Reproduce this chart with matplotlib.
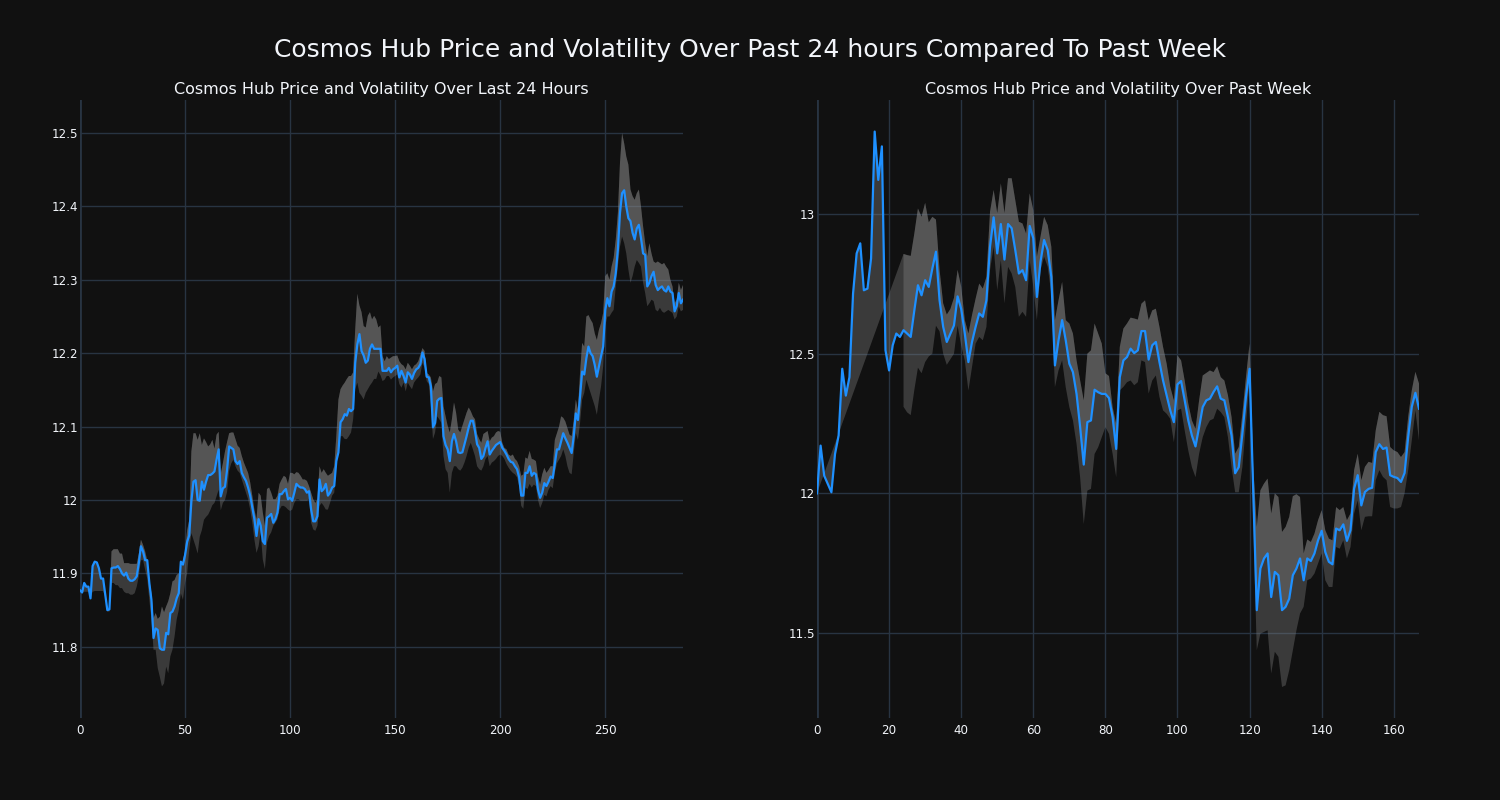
import numpy as np
import matplotlib
matplotlib.use("Agg")
import matplotlib.pyplot as plt
from matplotlib.ticker import FuncFormatter, MultipleLocator

nan = np.nan

# ---------------- Past 24 hours (5-minute samples) ----------------
price_24h = [
    11.877, 11.874, 11.887, 11.882, 11.882, 11.866, 11.910, 11.916, 11.915, 11.907,
    11.893, 11.893, 11.871, 11.850, 11.851, 11.907, 11.908, 11.908, 11.910, 11.906,
    11.900, 11.897, 11.901, 11.893, 11.890, 11.890, 11.892, 11.896, 11.914, 11.937,
    11.930, 11.918, 11.918, 11.887, 11.864, 11.812, 11.825, 11.823, 11.798, 11.796,
    11.796, 11.819, 11.817, 11.846, 11.848, 11.855, 11.866, 11.873, 11.916, 11.912,
    11.925, 11.943, 11.952, 11.998, 12.025, 12.027, 12.000, 11.999, 12.025, 12.014,
    12.025, 12.034, 12.034, 12.036, 12.039, 12.055, 12.069, 12.005, 12.016, 12.018,
    12.041, 12.073, 12.071, 12.069, 12.053, 12.049, 12.053, 12.037, 12.031, 12.026,
    12.017, 12.006, 11.990, 11.974, 11.951, 11.974, 11.965, 11.944, 11.940, 11.976,
    11.978, 11.981, 11.969, 11.974, 11.983, 12.008, 12.008, 12.012, 12.015, 12.001,
    12.003, 11.999, 12.010, 12.022, 12.019, 12.017, 12.017, 12.015, 12.010, 12.012,
    11.987, 11.971, 11.971, 11.978, 12.028, 12.012, 12.015, 12.022, 12.006, 12.010,
    12.017, 12.019, 12.053, 12.065, 12.106, 12.110, 12.117, 12.115, 12.124, 12.121,
    12.124, 12.187, 12.212, 12.226, 12.203, 12.197, 12.187, 12.190, 12.206, 12.212,
    12.206, 12.206, 12.206, 12.206, 12.176, 12.176, 12.176, 12.180, 12.174, 12.178,
    12.180, 12.183, 12.167, 12.176, 12.169, 12.160, 12.174, 12.171, 12.165, 12.173,
    12.178, 12.180, 12.185, 12.201, 12.192, 12.168, 12.167, 12.155, 12.099, 12.105,
    12.135, 12.138, 12.139, 12.087, 12.075, 12.069, 12.053, 12.080, 12.090, 12.080,
    12.065, 12.064, 12.065, 12.076, 12.087, 12.099, 12.108, 12.108, 12.094, 12.076,
    12.071, 12.056, 12.060, 12.071, 12.080, 12.062, 12.067, 12.071, 12.075, 12.077,
    12.079, 12.071, 12.067, 12.062, 12.056, 12.052, 12.051, 12.046, 12.042, 12.031,
    12.006, 12.006, 12.037, 12.037, 12.046, 12.033, 12.037, 12.035, 12.014, 12.003,
    12.010, 12.023, 12.019, 12.025, 12.032, 12.030, 12.050, 12.069, 12.069, 12.080,
    12.091, 12.084, 12.078, 12.071, 12.064, 12.087, 12.118, 12.109, 12.141, 12.175,
    12.171, 12.193, 12.209, 12.200, 12.196, 12.184, 12.168, 12.182, 12.196, 12.209,
    12.259, 12.275, 12.264, 12.284, 12.291, 12.309, 12.341, 12.391, 12.418, 12.422,
    12.400, 12.384, 12.380, 12.364, 12.355, 12.370, 12.375, 12.357, 12.336, 12.334,
    12.291, 12.296, 12.305, 12.311, 12.293, 12.286, 12.289, 12.291, 12.286, 12.284,
    12.291, 12.284, 12.282, 12.257, 12.264, 12.282, 12.268, 12.273,
]

upper_24h = [
    11.877, 11.874, 11.887, 11.882, 11.882, 11.866, 11.910, 11.916, 11.915, 11.907,
    11.893, 11.893, 11.871, 11.850, 11.851,
    11.930, 11.933, 11.933, 11.933, 11.927,
    11.927, 11.914, 11.914, 11.914, 11.913, 11.913, 11.913, 11.913, 11.927, 11.946,
    11.939, 11.930, 11.918, 11.891, 11.873, 11.839, 11.846, 11.838, 11.841, 11.855,
    11.847, 11.855, 11.862, 11.873, 11.889, 11.891, 11.898, 11.900, 11.905, 11.918,
    11.930, 11.959, 11.973, 12.066, 12.091, 12.091, 12.082, 12.091, 12.075, 12.084,
    12.079, 12.073, 12.076, 12.082, 12.070, 12.089, 12.093, 12.036, 12.050, 12.066,
    12.079, 12.091, 12.092, 12.092, 12.083, 12.074, 12.071, 12.060, 12.051, 12.044,
    12.037, 12.024, 12.006, 11.987, 11.974, 12.010, 12.006, 11.983, 11.965, 12.015,
    12.017, 12.010, 12.001, 12.001, 12.006, 12.022, 12.028, 12.033, 12.031, 12.022,
    12.037, 12.037, 12.035, 12.038, 12.037, 12.033, 12.028, 12.028, 12.026, 12.019,
    12.010, 12.001, 11.996, 12.001, 12.046, 12.037, 12.042, 12.037, 12.033, 12.035,
    12.037, 12.046, 12.087, 12.137, 12.151, 12.156, 12.160, 12.165, 12.169, 12.169,
    12.174, 12.233, 12.281, 12.265, 12.256, 12.237, 12.235, 12.251, 12.256, 12.246,
    12.251, 12.246, 12.235, 12.238, 12.196, 12.189, 12.196, 12.192, 12.194, 12.196,
    12.196, 12.197, 12.189, 12.185, 12.183, 12.178, 12.187, 12.183, 12.178, 12.183,
    12.185, 12.189, 12.198, 12.207, 12.203, 12.173, 12.171, 12.167, 12.148, 12.158,
    12.160, 12.169, 12.167, 12.128, 12.114, 12.101, 12.092, 12.110, 12.133, 12.119,
    12.096, 12.092, 12.101, 12.110, 12.119, 12.126, 12.121, 12.114, 12.110, 12.090,
    12.083, 12.078, 12.090, 12.092, 12.094, 12.080, 12.085, 12.087, 12.092, 12.094,
    12.093, 12.078, 12.071, 12.069, 12.062, 12.060, 12.062, 12.056, 12.053, 12.046,
    12.033, 12.035, 12.058, 12.056, 12.067, 12.056, 12.055, 12.053, 12.032, 12.021,
    12.035, 12.044, 12.037, 12.041, 12.046, 12.046, 12.082, 12.091, 12.100, 12.114,
    12.112, 12.107, 12.098, 12.089, 12.087, 12.109, 12.137, 12.123, 12.173, 12.214,
    12.209, 12.250, 12.252, 12.246, 12.241, 12.227, 12.218, 12.232, 12.241, 12.255,
    12.305, 12.309, 12.300, 12.318, 12.330, 12.355, 12.391, 12.459, 12.500, 12.486,
    12.468, 12.457, 12.423, 12.414, 12.409, 12.418, 12.423, 12.400, 12.373, 12.350,
    12.332, 12.350, 12.336, 12.325, 12.323, 12.325, 12.323, 12.321, 12.323, 12.318,
    12.314, 12.300, 12.291, 12.268, 12.273, 12.296, 12.286, 12.293,
]

lower_24h = [
    11.875, 11.874, 11.875, 11.875, 11.875, 11.866, 11.875, 11.876, 11.876, 11.876,
    11.876, 11.876, 11.868, 11.848, 11.848,
    11.887, 11.887, 11.884, 11.884, 11.880,
    11.880, 11.875, 11.873, 11.873, 11.871, 11.871, 11.873, 11.882, 11.896, 11.918,
    11.918, 11.905, 11.893, 11.864, 11.837, 11.796, 11.796, 11.771, 11.759, 11.746,
    11.750, 11.773, 11.764, 11.787, 11.796, 11.814, 11.837, 11.850, 11.873, 11.864,
    11.887, 11.900, 11.932, 11.955, 11.946, 11.937, 11.927, 11.950, 11.959, 11.973,
    11.977, 11.980, 11.986, 11.993, 11.996, 12.005, 12.014, 11.986, 11.996, 12.000,
    12.011, 12.040, 12.050, 12.055, 12.046, 12.040, 12.037, 12.028, 12.019, 12.010,
    12.001, 11.987, 11.969, 11.946, 11.928, 11.937, 11.956, 11.919, 11.906, 11.942,
    11.951, 11.956, 11.965, 11.969, 11.974, 11.987, 11.992, 11.992, 11.990, 11.987,
    11.985, 11.987, 11.996, 12.001, 12.001, 11.999, 11.999, 11.999, 11.999, 12.001,
    11.969, 11.960, 11.958, 11.965, 11.992, 11.996, 11.992, 11.987, 11.987, 11.996,
    12.006, 12.010, 12.046, 12.074, 12.087, 12.087, 12.083, 12.083, 12.087, 12.092,
    12.110, 12.151, 12.160, 12.146, 12.142, 12.137, 12.146, 12.151, 12.156, 12.160,
    12.165, 12.165, 12.175, 12.170, 12.162, 12.164, 12.169, 12.169, 12.164, 12.167,
    12.169, 12.171, 12.158, 12.153, 12.160, 12.148, 12.160, 12.155, 12.151, 12.160,
    12.164, 12.167, 12.171, 12.187, 12.180, 12.162, 12.158, 12.128, 12.083, 12.092,
    12.114, 12.110, 12.105, 12.060, 12.042, 12.037, 12.010, 12.037, 12.046, 12.046,
    12.042, 12.040, 12.044, 12.051, 12.060, 12.071, 12.078, 12.069, 12.060, 12.046,
    12.042, 12.040, 12.046, 12.056, 12.060, 12.046, 12.051, 12.053, 12.056, 12.060,
    12.062, 12.060, 12.056, 12.049, 12.044, 12.040, 12.037, 12.035, 12.031, 12.019,
    11.992, 11.988, 12.017, 12.015, 12.022, 12.017, 12.021, 12.019, 12.000, 11.989,
    11.996, 12.007, 12.005, 12.014, 12.019, 12.016, 12.037, 12.050, 12.055, 12.060,
    12.069, 12.060, 12.046, 12.037, 12.035, 12.064, 12.091, 12.082, 12.105, 12.137,
    12.146, 12.164, 12.155, 12.146, 12.137, 12.128, 12.116, 12.137, 12.155, 12.182,
    12.237, 12.250, 12.250, 12.255, 12.259, 12.291, 12.318, 12.345, 12.359, 12.350,
    12.336, 12.314, 12.296, 12.305, 12.318, 12.327, 12.323, 12.318, 12.296, 12.282,
    12.264, 12.268, 12.273, 12.271, 12.259, 12.257, 12.262, 12.257, 12.255, 12.257,
    12.259, 12.257, 12.255, 12.246, 12.250, 12.264, 12.257, 12.259,
]

# ---------------- Past week (hourly samples) ----------------
price_week = [
    12.000, 12.171, 12.063, 12.033, 12.004, 12.141, 12.207, 12.446, 12.350, 12.416,
    12.715, 12.859, 12.895, 12.727, 12.733, 12.841, 13.295, 13.122, 13.242, 12.512,
    12.440, 12.530, 12.572, 12.560, 12.584, 12.572, 12.560, 12.655, 12.745, 12.709,
    12.763, 12.739, 12.805, 12.865, 12.691, 12.596, 12.542, 12.572, 12.601, 12.705,
    12.660, 12.572, 12.470, 12.542, 12.596, 12.644, 12.632, 12.691, 12.883, 12.988,
    12.859, 12.964, 12.837, 12.964, 12.949, 12.871, 12.787, 12.799, 12.763, 12.957,
    12.913, 12.703, 12.829, 12.907, 12.871, 12.775, 12.458, 12.548, 12.620, 12.548,
    12.464, 12.434, 12.356, 12.237, 12.103, 12.255, 12.261, 12.371, 12.362, 12.356,
    12.356, 12.341, 12.273, 12.159, 12.416, 12.476, 12.488, 12.518, 12.502, 12.512,
    12.581, 12.581, 12.479, 12.530, 12.542, 12.470, 12.404, 12.351, 12.297, 12.255,
    12.390, 12.402, 12.333, 12.261, 12.207, 12.168, 12.237, 12.309, 12.333, 12.339,
    12.363, 12.383, 12.339, 12.333, 12.273, 12.207, 12.072, 12.094, 12.213, 12.345,
    12.446, 12.010, 11.582, 11.731, 11.767, 11.785, 11.629, 11.719, 11.707, 11.582,
    11.594, 11.623, 11.707, 11.731, 11.767, 11.689, 11.767, 11.758, 11.785, 11.832,
    11.866, 11.790, 11.755, 11.746, 11.874, 11.868, 11.889, 11.830, 11.868, 12.017,
    12.065, 11.957, 12.005, 12.016, 12.020, 12.148, 12.176, 12.159, 12.164, 12.065,
    12.059, 12.055, 12.041, 12.073, 12.202, 12.310, 12.360, 12.303,
]

upper_week = [nan] * 24 + [
    12.857, 12.853, 12.850, 12.930, 13.020, 12.990,
    13.040, 12.970, 12.990, 12.980, 12.800, 12.680, 12.640, 12.660, 12.700, 12.800,
    12.740, 12.620, 12.572, 12.638, 12.697, 12.751, 12.733, 12.775, 13.008, 13.086,
    13.003, 13.110, 13.003, 13.128, 13.128, 13.050, 12.972, 12.966, 12.930, 13.074,
    13.014, 12.847, 12.919, 12.990, 12.960, 12.883, 12.620, 12.691, 12.757, 12.620,
    12.608, 12.572, 12.476, 12.404, 12.333, 12.500, 12.512, 12.608, 12.572, 12.536,
    12.430, 12.420, 12.309, 12.249, 12.524, 12.590, 12.608, 12.629, 12.626, 12.622,
    12.679, 12.691, 12.620, 12.655, 12.661, 12.596, 12.524, 12.464, 12.381, 12.333,
    12.494, 12.476, 12.404, 12.321, 12.261, 12.231, 12.333, 12.422, 12.431, 12.440,
    12.434, 12.455, 12.416, 12.404, 12.351, 12.273, 12.142, 12.166, 12.285, 12.416,
    12.536, 12.100, 11.880, 12.011, 12.035, 12.053, 11.928, 12.000, 11.987, 11.862,
    11.880, 11.916, 11.990, 11.997, 11.987, 11.785, 11.835, 11.826, 11.856, 11.904,
    11.940, 11.868, 11.838, 11.832, 11.951, 11.940, 11.951, 11.904, 11.928, 12.083,
    12.142, 12.047, 12.095, 12.113, 12.109, 12.226, 12.292, 12.280, 12.276, 12.166,
    12.154, 12.148, 12.130, 12.148, 12.274, 12.369, 12.435, 12.393,
]

lower_week = [nan] * 24 + [
    12.310, 12.290, 12.280, 12.370, 12.450, 12.430,
    12.470, 12.490, 12.500, 12.600, 12.580, 12.500, 12.460, 12.480, 12.500, 12.600,
    12.530, 12.476, 12.368, 12.452, 12.536, 12.560, 12.548, 12.596, 12.799, 12.883,
    12.727, 12.835, 12.680, 12.811, 12.787, 12.739, 12.632, 12.650, 12.632, 12.835,
    12.739, 12.620, 12.799, 12.847, 12.811, 12.715, 12.380, 12.440, 12.476, 12.380,
    12.309, 12.261, 12.177, 12.057, 11.890, 12.010, 12.016, 12.141, 12.165, 12.201,
    12.237, 12.213, 12.142, 12.058, 12.369, 12.381, 12.398, 12.404, 12.387, 12.398,
    12.476, 12.470, 12.357, 12.404, 12.422, 12.345, 12.297, 12.285, 12.267, 12.183,
    12.297, 12.303, 12.225, 12.153, 12.094, 12.058, 12.142, 12.201, 12.237, 12.261,
    12.267, 12.303, 12.291, 12.273, 12.201, 12.094, 12.004, 12.004, 12.094, 12.249,
    12.404, 11.900, 11.439, 11.498, 11.504, 11.510, 11.355, 11.433, 11.415, 11.307,
    11.313, 11.367, 11.438, 11.510, 11.570, 11.594, 11.689, 11.695, 11.713, 11.749,
    11.785, 11.689, 11.665, 11.665, 11.808, 11.802, 11.832, 11.767, 11.808, 11.928,
    11.975, 11.868, 11.916, 11.918, 11.918, 12.047, 12.083, 12.059, 12.047, 11.951,
    11.946, 11.946, 11.951, 12.000, 12.083, 12.190, 12.297, 12.190,
]

main_title = "Cosmos Hub Price and Volatility Over Past 24 hours Compared To Past Week"
title_24h = "Cosmos Hub Price and Volatility Over Last 24 Hours"
title_week = "Cosmos Hub Price and Volatility Over Past Week"

BG = "#111111"
GRID = "#283442"
TEXT = "#f2f5fa"
LINE = "#1e90ff"
FILL = (0.54, 0.54, 0.54)
FILL_ALPHA = 0.34

plt.rcParams["font.family"] = ["DejaVu Sans"]

fig = plt.figure(figsize=(15, 8), dpi=100, facecolor=BG)


def band_fills(ax, x, price, upper, lower):
    """Two stacked 'tonexty' fills: price->upper, then upper->lower."""
    valid = ~np.isnan(upper)
    xv = x[valid]
    uv = upper[valid]
    lv = lower[valid]
    px1 = np.concatenate([xv, x[::-1]])
    py1 = np.concatenate([uv, price[::-1]])
    ax.fill(px1, py1, color=FILL, alpha=FILL_ALPHA, lw=0, zorder=2)
    px2 = np.concatenate([xv, xv[::-1]])
    py2 = np.concatenate([lv, uv[::-1]])
    ax.fill(px2, py2, color=FILL, alpha=FILL_ALPHA, lw=0, zorder=2)


def fmt(v, pos):
    s = f"{v:.2f}".rstrip("0").rstrip(".")
    return s


def style(ax, xlim, ylim, xstep, ystep):
    ax.set_facecolor(BG)
    ax.set_xlim(*xlim)
    ax.set_ylim(*ylim)
    ax.xaxis.set_major_locator(MultipleLocator(xstep))
    ax.yaxis.set_major_locator(MultipleLocator(ystep))
    ax.yaxis.set_major_formatter(FuncFormatter(fmt))
    ax.grid(True, color=GRID, lw=1.0, zorder=0)
    ax.set_axisbelow(True)
    for s in ax.spines.values():
        s.set_visible(False)
    ax.axvline(0, color=GRID, lw=2.0, zorder=1)
    ax.tick_params(axis="both", length=0, colors=TEXT, labelsize=8.6)
    ax.tick_params(axis="y", pad=1.2)
    ax.tick_params(axis="x", pad=4.0)


# left: 24h
ax1 = fig.add_axes([80 / 1500, 82 / 800, 603 / 1500, 618 / 800])
x1 = np.arange(len(price_24h))
p1 = np.array(price_24h)
band_fills(ax1, x1, p1, np.array(upper_24h), np.array(lower_24h))
ax1.plot(x1, p1, color=LINE, lw=1.6, zorder=3)
style(ax1, (0, len(price_24h) - 1), (11.703, 12.545), 50, 0.1)
ax1.set_title(title_24h, color=TEXT, fontsize=11.55, pad=4)

# right: week
ax2 = fig.add_axes([817 / 1500, 82 / 800, 602 / 1500, 618 / 800])
x2 = np.arange(len(price_week))
p2 = np.array(price_week)
band_fills(ax2, x2, p2, np.array(upper_week), np.array(lower_week))
ax2.plot(x2, p2, color=LINE, lw=1.6, zorder=3)
style(ax2, (0, len(price_week) - 1), (11.196, 13.408), 20, 0.5)
ax2.set_title(title_week, color=TEXT, fontsize=11.55, pad=4)

fig.text(0.5, 1 - 50 / 800, main_title, color=TEXT, fontsize=18.0,
         ha="center", va="center")

fig.savefig("out.png", dpi=100, facecolor=BG)
